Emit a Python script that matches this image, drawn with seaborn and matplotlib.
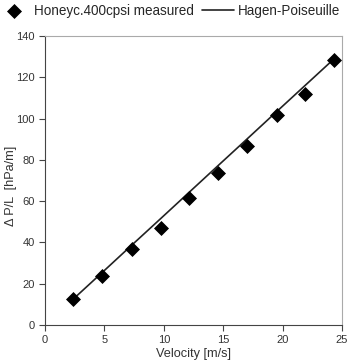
import matplotlib
matplotlib.use("Agg")
import matplotlib.pyplot as plt
import seaborn as sns
import pandas as pd

# measured points
velocity = [2.38, 4.82, 7.3, 9.76, 12.15, 14.6, 17.0, 19.5, 21.9, 24.3]
dp_measured = [12.4, 23.9, 36.8, 47.1, 61.7, 73.5, 86.7, 101.7, 111.7, 128.4]
# Hagen-Poiseuille line at the same velocities
dp_hagen = [12.6, 25.5, 38.7, 51.7, 64.4, 77.4, 90.1, 103.4, 116.1, 128.8]

df = pd.DataFrame({"v": velocity, "meas": dp_measured, "hp": dp_hagen})

sns.set_style("ticks")
plt.rcParams['font.family'] = ['Liberation Sans', 'DejaVu Sans']

fig = plt.figure(figsize=(3.49, 3.64), dpi=100)
ax = fig.add_axes([0.129, 0.107, 0.851, 0.794])

sns.lineplot(data=df, x="v", y="hp", ax=ax, color="#222222", linewidth=1.2,
             label="Hagen-Poiseuille")
sns.scatterplot(data=df, x="v", y="meas", ax=ax, marker="D", s=50, color="black",
                edgecolor="black", label="Honeyc.400cpsi measured", zorder=3)

ax.set_xlim(0, 25)
ax.set_ylim(0, 140)
ax.set_xticks([0, 5, 10, 15, 20, 25])
ax.set_yticks(range(0, 141, 20))
ax.tick_params(labelsize=8, length=4, width=0.8, color="#444444", labelcolor="#333333")
ax.set_xlabel("Velocity [m/s]", fontsize=9.2, color="#333333", labelpad=2)
ax.set_ylabel("Δ P/L  [hPa/m]", fontsize=9.2, color="#333333")
ax.yaxis.set_label_coords(-0.095, 0.48)
for s in ["left", "bottom"]:
    ax.spines[s].set_color("#444444")
for s in ["top", "right"]:
    ax.spines[s].set_color("#aaaaaa")
    ax.spines[s].set_visible(True)

h, l = ax.get_legend_handles_labels()
ax.legend(h[::-1], l[::-1], loc="lower center", bbox_to_anchor=(0.418, 1.045), ncol=2,
          frameon=False, fontsize=9.75, handlelength=2.35, columnspacing=0.6,
          handletextpad=0.3, borderaxespad=0)

fig.savefig("out.png", dpi=100)
